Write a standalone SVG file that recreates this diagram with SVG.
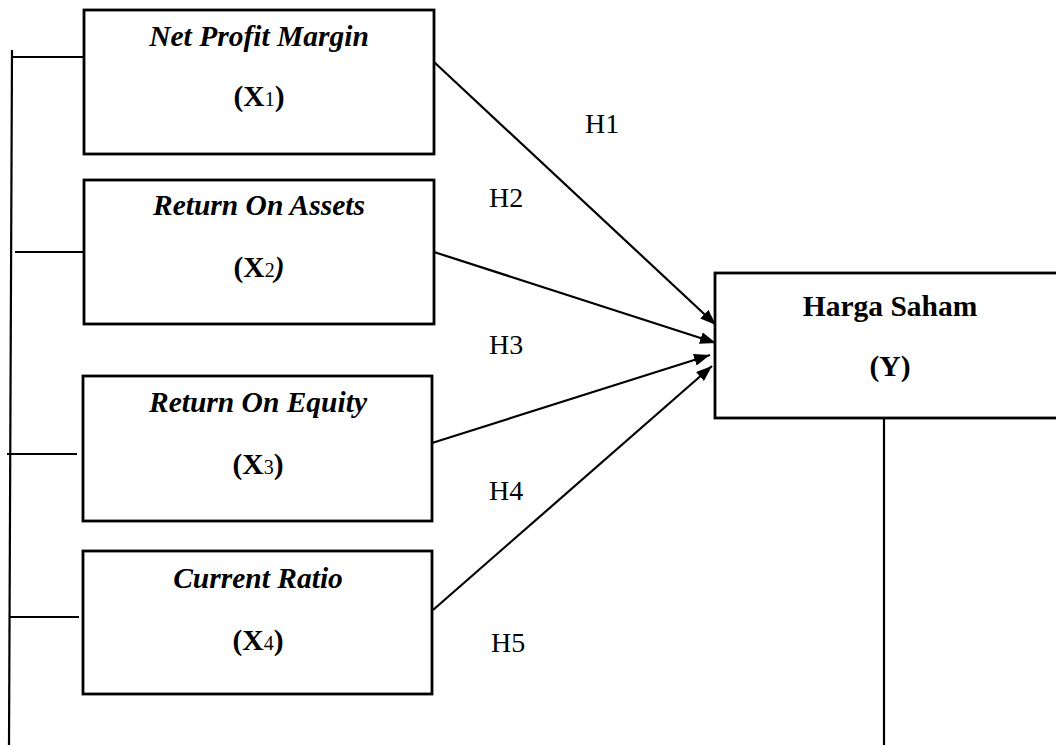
<svg xmlns="http://www.w3.org/2000/svg" width="1056" height="745" viewBox="0 0 1056 745">
<style>
.box{fill:#fff;stroke:#000;stroke-width:2.8}
.ln{stroke:#000;stroke-width:2.2;fill:none}
text{font-family:'Liberation Serif','DejaVu Serif',serif;font-size:28px;fill:#000}
.t{text-anchor:middle;font-size:29.5px}
.bi{font-weight:bold;font-style:italic}
.b{font-weight:bold}
.sub{font-size:20px;font-weight:normal}
</style>
<defs>
<marker id="arr" viewBox="0 0 16 12" refX="16" refY="6" markerWidth="16" markerHeight="12" markerUnits="userSpaceOnUse" orient="auto">
<path d="M0,0 L16,6 L0,12 Z" fill="#000"/>
</marker>
</defs>
<rect width="1056" height="745" fill="#fff"/>
<g id="connectors">
<line class="ln" x1="12" y1="50" x2="9" y2="745"/>
<line class="ln" x1="12" y1="57" x2="84" y2="57"/>
<line class="ln" x1="15" y1="252" x2="84" y2="252"/>
<line class="ln" x1="7" y1="454" x2="77" y2="454"/>
<line class="ln" x1="10" y1="617" x2="79" y2="617"/>
<line class="ln" x1="884" y1="418" x2="884" y2="745"/>
<line class="ln" x1="434" y1="62" x2="716" y2="325" marker-end="url(#arr)"/>
<line class="ln" x1="434" y1="252" x2="716" y2="343" marker-end="url(#arr)"/>
<line class="ln" x1="432" y1="443" x2="710" y2="355" marker-end="url(#arr)"/>
<line class="ln" x1="433" y1="610" x2="712" y2="366" marker-end="url(#arr)"/>
<text x="585" y="133">H1</text>
<text x="489" y="207">H2</text>
<text x="489" y="354">H3</text>
<text x="489" y="500">H4</text>
<text x="491" y="652">H5</text>
</g>
<g id="x1">
<rect class="box" x="84" y="10" width="350" height="144"/>
<text class="t bi" x="259" y="46">Net Profit Margin</text>
<text class="t b" x="259" y="106">(X<tspan class="sub">1</tspan>)</text>
</g>
<g id="x2">
<rect class="box" x="84" y="180" width="350" height="144"/>
<text class="t bi" x="259" y="215">Return On Assets</text>
<text class="t b" x="259" y="277">(X<tspan class="sub">2</tspan><tspan font-style="italic">)</tspan></text>
</g>
<g id="x3">
<rect class="box" x="83" y="376" width="349" height="145"/>
<text class="t bi" x="258" y="412">Return On Equity</text>
<text class="t b" x="258" y="474">(X<tspan class="sub">3</tspan>)</text>
</g>
<g id="x4">
<rect class="box" x="83" y="551" width="349" height="143"/>
<text class="t bi" x="258" y="588">Current Ratio</text>
<text class="t b" x="258" y="650">(X<tspan class="sub">4</tspan>)</text>
</g>
<g id="y">
<rect class="box" x="715" y="273" width="345" height="145"/>
<text class="t b" x="890" y="316">Harga Saham</text>
<text class="t b" x="890" y="376">(Y)</text>
</g>
</svg>
